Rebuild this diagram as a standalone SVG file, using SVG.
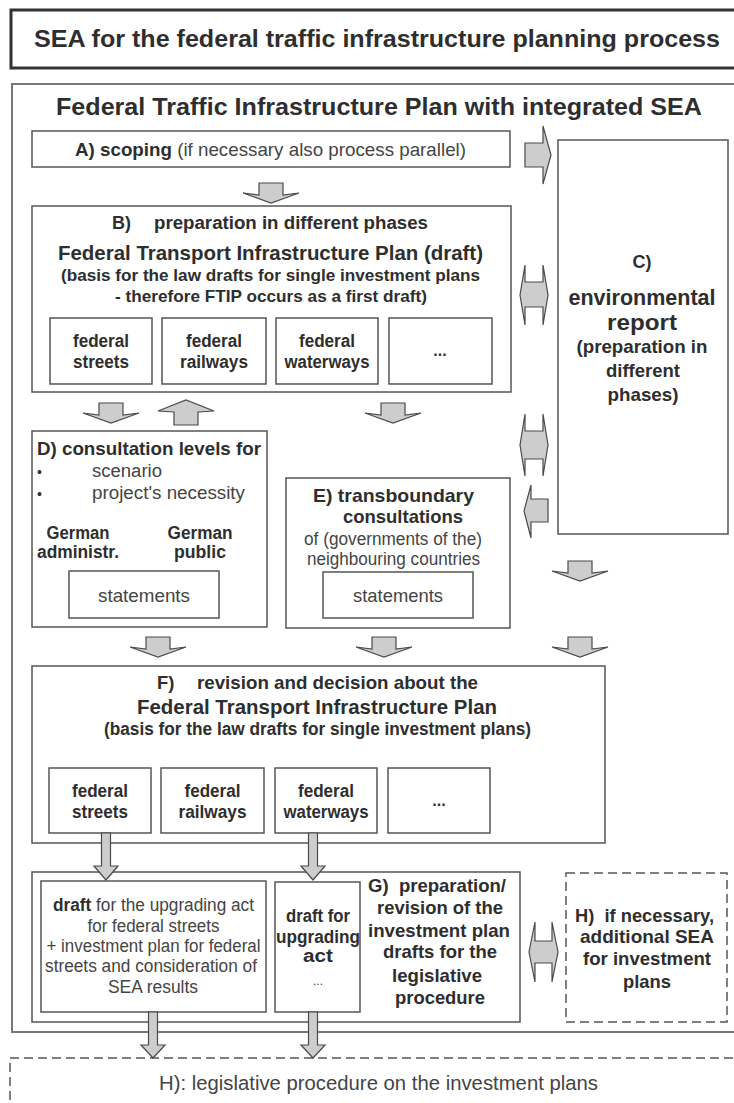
<svg xmlns="http://www.w3.org/2000/svg" width="734" height="1103" viewBox="0 0 734 1103">
<style>
.box{fill:#fff;stroke:#555;stroke-width:1.5}
.dash{fill:none;stroke:#555;stroke-width:1.5;stroke-dasharray:9 5}
.t{font-family:"Liberation Sans",Arial,sans-serif;fill:#2e2e2e}
.r{fill:#444}
.b{font-weight:bold}
.m{text-anchor:middle}
.arr{fill:#cdcdcd;stroke:#4a4a4a;stroke-width:1.2;stroke-linejoin:miter}
</style>
<rect width="734" height="1103" fill="#fff"/>
<g id="title">
<rect x="11" y="10" width="740" height="58" fill="#fff" stroke="#333" stroke-width="3"/>
<text x="377" y="47" class="t b m" font-size="24" textLength="686" lengthAdjust="spacingAndGlyphs">SEA for the federal traffic infrastructure planning process</text>
</g>
<g id="outer">
<rect x="12" y="84" width="740" height="948" fill="none" stroke="#777" stroke-width="2"/>
<text x="379" y="115" class="t b m" font-size="24" textLength="646" lengthAdjust="spacingAndGlyphs">Federal Traffic Infrastructure Plan with integrated SEA</text>
</g>
<g id="A">
<rect x="32" y="131" width="478" height="36" class="box"/>
<text x="270.5" y="155.5" class="t r m" font-size="18.5" textLength="391" lengthAdjust="spacingAndGlyphs"><tspan class="b" fill="#2e2e2e">A) scoping</tspan> (if necessary also process parallel)</text>
</g>
<g id="C">
<rect x="558" y="140" width="170" height="394" class="box"/>
<text x="642" y="268" class="t b m" font-size="18">C)</text>
<text x="642" y="305" class="t b m" font-size="22" textLength="147" lengthAdjust="spacingAndGlyphs">environmental</text>
<text x="642" y="330" class="t b m" font-size="22" textLength="70" lengthAdjust="spacingAndGlyphs">report</text>
<text x="642" y="353" class="t b m" font-size="18.5" textLength="131" lengthAdjust="spacingAndGlyphs">(preparation in</text>
<text x="643" y="377" class="t b m" font-size="18.5" textLength="74" lengthAdjust="spacingAndGlyphs">different</text>
<text x="643" y="401" class="t b m" font-size="18.5" textLength="71" lengthAdjust="spacingAndGlyphs">phases)</text>
</g>
<g id="B">
<rect x="32" y="206" width="479" height="186" class="box"/>
<text x="112" y="229" class="t b" font-size="18">B)</text>
<text x="154" y="229" class="t b" font-size="18" textLength="274" lengthAdjust="spacingAndGlyphs">preparation in different phases</text>
<text x="270.5" y="260" class="t b m" font-size="20.5" textLength="425" lengthAdjust="spacingAndGlyphs">Federal Transport Infrastructure Plan (draft)</text>
<text x="270.5" y="281" class="t b m" font-size="17" textLength="419" lengthAdjust="spacingAndGlyphs">(basis for the law drafts for single investment plans</text>
<text x="271" y="302" class="t b m" font-size="17" textLength="312" lengthAdjust="spacingAndGlyphs">- therefore FTIP occurs as a first draft)</text>
<g id="B1"><rect x="50" y="318" width="102" height="66" class="box"/>
<text x="101" y="347" class="t b m" font-size="17.5" textLength="56" lengthAdjust="spacingAndGlyphs">federal</text>
<text x="101" y="368" class="t b m" font-size="17.5" textLength="56" lengthAdjust="spacingAndGlyphs">streets</text></g>
<g id="B2"><rect x="162" y="318" width="104" height="66" class="box"/>
<text x="214" y="347" class="t b m" font-size="17.5" textLength="56" lengthAdjust="spacingAndGlyphs">federal</text>
<text x="214" y="368" class="t b m" font-size="17.5" textLength="68" lengthAdjust="spacingAndGlyphs">railways</text></g>
<g id="B3"><rect x="276" y="318" width="102" height="66" class="box"/>
<text x="327" y="347" class="t b m" font-size="17.5" textLength="56" lengthAdjust="spacingAndGlyphs">federal</text>
<text x="327" y="368" class="t b m" font-size="17.5" textLength="85" lengthAdjust="spacingAndGlyphs">waterways</text></g>
<g id="B4"><rect x="389" y="318" width="103" height="66" class="box"/>
<text x="440" y="356" class="t b m" font-size="16">...</text></g>
</g>
<g id="D">
<rect x="32" y="431" width="235" height="196" class="box"/>
<text x="37" y="455" class="t b" font-size="18.5" textLength="224" lengthAdjust="spacingAndGlyphs">D) consultation levels for</text>
<text x="37" y="477" class="t" font-size="14">•</text>
<text x="37" y="499" class="t" font-size="14">•</text>
<text x="92" y="477" class="t r" font-size="18" textLength="70" lengthAdjust="spacingAndGlyphs">scenario</text>
<text x="92" y="499" class="t r" font-size="18" textLength="153" lengthAdjust="spacingAndGlyphs">project's necessity</text>
<text x="78" y="539" class="t b m" font-size="17.5" textLength="63" lengthAdjust="spacingAndGlyphs">German</text>
<text x="78" y="558" class="t b m" font-size="17.5" textLength="82" lengthAdjust="spacingAndGlyphs">administr.</text>
<text x="200" y="539" class="t b m" font-size="17.5" textLength="65" lengthAdjust="spacingAndGlyphs">German</text>
<text x="200" y="558" class="t b m" font-size="17.5" textLength="52" lengthAdjust="spacingAndGlyphs">public</text>
<g id="D1"><rect x="69" y="571" width="150" height="47" class="box"/>
<text x="144" y="602" class="t r m" font-size="18.5" textLength="92" lengthAdjust="spacingAndGlyphs">statements</text></g>
</g>
<g id="E">
<rect x="286" y="478" width="224" height="150" class="box"/>
<text x="393.5" y="502" class="t b m" font-size="18.5" textLength="161" lengthAdjust="spacingAndGlyphs">E) transboundary</text>
<text x="403" y="523" class="t b m" font-size="18.5" textLength="120" lengthAdjust="spacingAndGlyphs">consultations</text>
<text x="393" y="545" class="t r m" font-size="17.5" textLength="178" lengthAdjust="spacingAndGlyphs">of (governments of the)</text>
<text x="393.5" y="565" class="t r m" font-size="17.5" textLength="173" lengthAdjust="spacingAndGlyphs">neighbouring countries</text>
<g id="E1"><rect x="323" y="572" width="150" height="46" class="box"/>
<text x="398" y="602" class="t r m" font-size="18.5" textLength="90" lengthAdjust="spacingAndGlyphs">statements</text></g>
</g>
<g id="F">
<rect x="32" y="666" width="573" height="177" class="box"/>
<text x="157" y="689" class="t b" font-size="18.5">F)</text>
<text x="197" y="689" class="t b" font-size="18.5" textLength="281" lengthAdjust="spacingAndGlyphs">revision and decision about the</text>
<text x="317" y="714" class="t b m" font-size="20.5" textLength="360" lengthAdjust="spacingAndGlyphs">Federal Transport Infrastructure Plan</text>
<text x="317.5" y="735" class="t b m" font-size="17.5" textLength="427" lengthAdjust="spacingAndGlyphs">(basis for the law drafts for single investment plans)</text>
<g id="F1"><rect x="49" y="768" width="102" height="65" class="box"/>
<text x="100" y="797" class="t b m" font-size="17.5" textLength="56" lengthAdjust="spacingAndGlyphs">federal</text>
<text x="100" y="818" class="t b m" font-size="17.5" textLength="56" lengthAdjust="spacingAndGlyphs">streets</text></g>
<g id="F2"><rect x="161" y="768" width="103" height="65" class="box"/>
<text x="212.5" y="797" class="t b m" font-size="17.5" textLength="56" lengthAdjust="spacingAndGlyphs">federal</text>
<text x="212.5" y="818" class="t b m" font-size="17.5" textLength="68" lengthAdjust="spacingAndGlyphs">railways</text></g>
<g id="F3"><rect x="275" y="768" width="102" height="65" class="box"/>
<text x="326" y="797" class="t b m" font-size="17.5" textLength="56" lengthAdjust="spacingAndGlyphs">federal</text>
<text x="326" y="818" class="t b m" font-size="17.5" textLength="85" lengthAdjust="spacingAndGlyphs">waterways</text></g>
<g id="F4"><rect x="388" y="768" width="102" height="65" class="box"/>
<text x="439" y="806" class="t b m" font-size="16">...</text></g>
</g>
<g id="G">
<rect x="32" y="872" width="488" height="150" class="box"/>
<g id="G1"><rect x="41" y="881" width="225" height="131" class="box"/>
<text x="153.5" y="911" class="t r m" font-size="17.5" textLength="201" lengthAdjust="spacingAndGlyphs"><tspan class="b" fill="#2e2e2e">draft</tspan> for the upgrading act</text>
<text x="153.5" y="932" class="t r m" font-size="17.5" textLength="132" lengthAdjust="spacingAndGlyphs">for federal streets</text>
<text x="153.5" y="952" class="t r m" font-size="17.5" textLength="214" lengthAdjust="spacingAndGlyphs">+ investment plan for federal</text>
<text x="151" y="972" class="t r m" font-size="17.5" textLength="212" lengthAdjust="spacingAndGlyphs">streets and consideration of</text>
<text x="153" y="993" class="t r m" font-size="17.5" textLength="90" lengthAdjust="spacingAndGlyphs">SEA results</text></g>
<g id="G2"><rect x="275" y="882" width="85" height="130" class="box"/>
<text x="318" y="922" class="t b m" font-size="17.5" textLength="64" lengthAdjust="spacingAndGlyphs">draft for</text>
<text x="318" y="943" class="t b m" font-size="17.5" textLength="84" lengthAdjust="spacingAndGlyphs">upgrading</text>
<text x="318" y="962" class="t b m" font-size="17.5" textLength="30" lengthAdjust="spacingAndGlyphs">act</text>
<text x="318" y="985" class="t r m" font-size="12">...</text></g>
<text x="437" y="892" class="t b m" font-size="18.5" textLength="138" lengthAdjust="spacingAndGlyphs" xml:space="preserve">G)  preparation/</text>
<text x="440" y="914" class="t b m" font-size="18.5" textLength="126" lengthAdjust="spacingAndGlyphs">revision of the</text>
<text x="439" y="937" class="t b m" font-size="18.5" textLength="142" lengthAdjust="spacingAndGlyphs">investment plan</text>
<text x="440" y="958" class="t b m" font-size="18.5" textLength="114" lengthAdjust="spacingAndGlyphs">drafts for the</text>
<text x="437" y="982" class="t b m" font-size="18.5" textLength="90" lengthAdjust="spacingAndGlyphs">legislative</text>
<text x="440" y="1004" class="t b m" font-size="18.5" textLength="90" lengthAdjust="spacingAndGlyphs">procedure</text>
</g>
<g id="H1">
<rect x="566" y="873" width="161" height="149" class="dash"/>
<text x="644.5" y="922" class="t b m" font-size="18.5" textLength="139" lengthAdjust="spacingAndGlyphs" xml:space="preserve">H)  if necessary,</text>
<text x="647" y="943" class="t b m" font-size="18.5" textLength="134" lengthAdjust="spacingAndGlyphs">additional SEA</text>
<text x="647" y="965" class="t b m" font-size="18.5" textLength="128" lengthAdjust="spacingAndGlyphs">for investment</text>
<text x="647" y="988" class="t b m" font-size="18.5" textLength="48" lengthAdjust="spacingAndGlyphs">plans</text>
</g>
<g id="H2">
<rect x="10" y="1058" width="740" height="100" class="dash"/>
<text x="378.5" y="1090" class="t r m" font-size="20.5" textLength="439" lengthAdjust="spacingAndGlyphs">H): legislative procedure on the investment plans</text>
</g>
<g id="connectors">
<polygon class="arr" points="525,143 543,143 543,126 551,155 543,184 543,167 525,167"/>
<polygon class="arr" points="259,183 283,183 283,195 299,193 271,203 243,193 259,195"/>
<polygon class="arr" points="99,403 123,403 123,415 139,413 111,423 83,413 99,415"/>
<polygon class="arr" points="174,425 198,425 198,412 214,411 186,400 158,411 174,412"/>
<polygon class="arr" points="381,403 405,403 405,415 421,413 393,423 365,413 381,415"/>
<polygon class="arr" points="525,282 543,282 543,265 548,295 543,325 543,307 525,307 525,325 520,295 525,265"/>
<polygon class="arr" points="525,431 543,431 543,414 548,445 543,476 543,459 525,459 525,476 520,445 525,414"/>
<polygon class="arr" points="548,499 548,522 531,522 531,538 524,511 531,485 531,499"/>
<polygon class="arr" points="568,561 592,561 592,573 608,571 580,581 552,571 568,573"/>
<polygon class="arr" points="146,637 170,637 170,649 186,647 158,657 130,647 146,649"/>
<polygon class="arr" points="372,637 396,637 396,649 412,647 384,657 356,647 372,649"/>
<polygon class="arr" points="568,637 592,637 592,649 608,647 580,657 552,647 568,649"/>
<polygon class="arr" points="101.5,833 110.5,833 110.5,866 118,866 106,880 94,866 101.5,866"/>
<polygon class="arr" points="308.5,833 317.5,833 317.5,866 325,866 313,880 301,866 308.5,866"/>
<polygon class="arr" points="535,941 552,941 552,922 558,952 552,982 552,963 535,963 535,982 529,952 535,922"/>
<polygon class="arr" points="148.5,1012 157.5,1012 157.5,1045 165,1045 153,1058 141,1045 148.5,1045"/>
<polygon class="arr" points="308.5,1012 317.5,1012 317.5,1045 325,1045 313,1058 301,1045 308.5,1045"/>
</g>
</svg>
